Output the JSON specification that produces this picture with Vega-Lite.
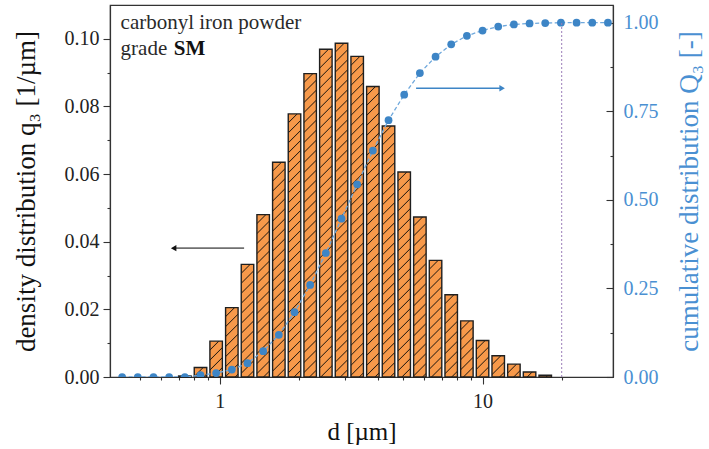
{
  "$schema": "https://vega.github.io/schema/vega-lite/v6.json",
  "width": 503,
  "height": 372,
  "autosize": {"type": "none"},
  "padding": {"left": 110, "top": 5, "right": 96, "bottom": 72},
  "background": "white",
  "params": [
    {
      "name": "hatch",
      "value": [
        {"offset": 0, "color": "#f7994a"},
        {"offset": 0.0223, "color": "#f7994a"}, {"offset": 0.0254, "color": "#2a1e12"}, {"offset": 0.0286, "color": "#f7994a"},
        {"offset": 0.0509, "color": "#f7994a"}, {"offset": 0.0540, "color": "#2a1e12"}, {"offset": 0.0571, "color": "#f7994a"},
        {"offset": 0.0794, "color": "#f7994a"}, {"offset": 0.0826, "color": "#2a1e12"}, {"offset": 0.0857, "color": "#f7994a"},
        {"offset": 0.1080, "color": "#f7994a"}, {"offset": 0.1111, "color": "#2a1e12"}, {"offset": 0.1143, "color": "#f7994a"},
        {"offset": 0.1366, "color": "#f7994a"}, {"offset": 0.1397, "color": "#2a1e12"}, {"offset": 0.1429, "color": "#f7994a"},
        {"offset": 0.1651, "color": "#f7994a"}, {"offset": 0.1683, "color": "#2a1e12"}, {"offset": 0.1714, "color": "#f7994a"},
        {"offset": 0.1937, "color": "#f7994a"}, {"offset": 0.1969, "color": "#2a1e12"}, {"offset": 0.2000, "color": "#f7994a"},
        {"offset": 0.2223, "color": "#f7994a"}, {"offset": 0.2254, "color": "#2a1e12"}, {"offset": 0.2286, "color": "#f7994a"},
        {"offset": 0.2509, "color": "#f7994a"}, {"offset": 0.2540, "color": "#2a1e12"}, {"offset": 0.2571, "color": "#f7994a"},
        {"offset": 0.2794, "color": "#f7994a"}, {"offset": 0.2826, "color": "#2a1e12"}, {"offset": 0.2857, "color": "#f7994a"},
        {"offset": 0.3080, "color": "#f7994a"}, {"offset": 0.3111, "color": "#2a1e12"}, {"offset": 0.3143, "color": "#f7994a"},
        {"offset": 0.3366, "color": "#f7994a"}, {"offset": 0.3397, "color": "#2a1e12"}, {"offset": 0.3429, "color": "#f7994a"},
        {"offset": 0.3651, "color": "#f7994a"}, {"offset": 0.3683, "color": "#2a1e12"}, {"offset": 0.3714, "color": "#f7994a"},
        {"offset": 0.3937, "color": "#f7994a"}, {"offset": 0.3969, "color": "#2a1e12"}, {"offset": 0.4000, "color": "#f7994a"},
        {"offset": 0.4223, "color": "#f7994a"}, {"offset": 0.4254, "color": "#2a1e12"}, {"offset": 0.4286, "color": "#f7994a"},
        {"offset": 0.4509, "color": "#f7994a"}, {"offset": 0.4540, "color": "#2a1e12"}, {"offset": 0.4571, "color": "#f7994a"},
        {"offset": 0.4794, "color": "#f7994a"}, {"offset": 0.4826, "color": "#2a1e12"}, {"offset": 0.4857, "color": "#f7994a"},
        {"offset": 0.5080, "color": "#f7994a"}, {"offset": 0.5111, "color": "#2a1e12"}, {"offset": 0.5143, "color": "#f7994a"},
        {"offset": 0.5366, "color": "#f7994a"}, {"offset": 0.5397, "color": "#2a1e12"}, {"offset": 0.5429, "color": "#f7994a"},
        {"offset": 0.5651, "color": "#f7994a"}, {"offset": 0.5683, "color": "#2a1e12"}, {"offset": 0.5714, "color": "#f7994a"},
        {"offset": 0.5937, "color": "#f7994a"}, {"offset": 0.5969, "color": "#2a1e12"}, {"offset": 0.6000, "color": "#f7994a"},
        {"offset": 0.6223, "color": "#f7994a"}, {"offset": 0.6254, "color": "#2a1e12"}, {"offset": 0.6286, "color": "#f7994a"},
        {"offset": 0.6509, "color": "#f7994a"}, {"offset": 0.6540, "color": "#2a1e12"}, {"offset": 0.6571, "color": "#f7994a"},
        {"offset": 0.6794, "color": "#f7994a"}, {"offset": 0.6826, "color": "#2a1e12"}, {"offset": 0.6857, "color": "#f7994a"},
        {"offset": 0.7080, "color": "#f7994a"}, {"offset": 0.7111, "color": "#2a1e12"}, {"offset": 0.7143, "color": "#f7994a"},
        {"offset": 0.7366, "color": "#f7994a"}, {"offset": 0.7397, "color": "#2a1e12"}, {"offset": 0.7429, "color": "#f7994a"},
        {"offset": 0.7651, "color": "#f7994a"}, {"offset": 0.7683, "color": "#2a1e12"}, {"offset": 0.7714, "color": "#f7994a"},
        {"offset": 0.7937, "color": "#f7994a"}, {"offset": 0.7969, "color": "#2a1e12"}, {"offset": 0.8000, "color": "#f7994a"},
        {"offset": 0.8223, "color": "#f7994a"}, {"offset": 0.8254, "color": "#2a1e12"}, {"offset": 0.8286, "color": "#f7994a"},
        {"offset": 0.8509, "color": "#f7994a"}, {"offset": 0.8540, "color": "#2a1e12"}, {"offset": 0.8571, "color": "#f7994a"},
        {"offset": 0.8794, "color": "#f7994a"}, {"offset": 0.8826, "color": "#2a1e12"}, {"offset": 0.8857, "color": "#f7994a"},
        {"offset": 0.9080, "color": "#f7994a"}, {"offset": 0.9111, "color": "#2a1e12"}, {"offset": 0.9143, "color": "#f7994a"},
        {"offset": 0.9366, "color": "#f7994a"}, {"offset": 0.9397, "color": "#2a1e12"}, {"offset": 0.9429, "color": "#f7994a"},
        {"offset": 0.9651, "color": "#f7994a"}, {"offset": 0.9683, "color": "#2a1e12"}, {"offset": 0.9714, "color": "#f7994a"},
        {"offset": 0.9937, "color": "#f7994a"}, {"offset": 0.9969, "color": "#2a1e12"}, {"offset": 1, "color": "#f7994a"}
      ]
    }
  ],
  "config": {
    "font": "Liberation Serif",
    "view": {"stroke": "#333333", "strokeWidth": 1.2},
    "axis": {
      "grid": false,
      "domainColor": "#333333",
      "domainWidth": 1.2,
      "tickColor": "#333333",
      "tickWidth": 1.1,
      "labelFont": "Liberation Serif",
      "labelFontSize": 20,
      "labelColor": "#222222",
      "labelOverlap": false,
      "labelFlush": false,
      "titleFont": "Liberation Serif",
      "titleFontWeight": "normal",
      "titleColor": "#111111"
    }
  },
  "datasets": {
    "q3": [
      {"d": 0.7374, "q3": 0.0003},
      {"d": 0.8458, "q3": 0.0028},
      {"d": 0.9701, "q3": 0.0106},
      {"d": 1.1128, "q3": 0.0205},
      {"d": 1.2764, "q3": 0.0333},
      {"d": 1.4642, "q3": 0.0480},
      {"d": 1.6795, "q3": 0.0635},
      {"d": 1.9265, "q3": 0.0778},
      {"d": 2.2099, "q3": 0.0897},
      {"d": 2.5351, "q3": 0.0969},
      {"d": 2.9079, "q3": 0.0987},
      {"d": 3.3357, "q3": 0.0948},
      {"d": 3.8263, "q3": 0.0859},
      {"d": 4.3892, "q3": 0.0742},
      {"d": 5.0350, "q3": 0.0606},
      {"d": 5.7756, "q3": 0.0473},
      {"d": 6.6252, "q3": 0.0345},
      {"d": 7.5996, "q3": 0.0243},
      {"d": 8.7176, "q3": 0.0166},
      {"d": 10.0, "q3": 0.0108},
      {"d": 11.471, "q3": 0.0063},
      {"d": 13.158, "q3": 0.0038},
      {"d": 15.094, "q3": 0.0015},
      {"d": 17.314, "q3": 0.0005}
    ],
    "Q3": [
      {"d": 0.4258, "Q3": 0.0},
      {"d": 0.4883, "Q3": 0.0},
      {"d": 0.5603, "Q3": 0.0},
      {"d": 0.6427, "Q3": 0.0},
      {"d": 0.7374, "Q3": 0.0},
      {"d": 0.8458, "Q3": 0.005},
      {"d": 0.9701, "Q3": 0.011},
      {"d": 1.1128, "Q3": 0.021},
      {"d": 1.2764, "Q3": 0.039},
      {"d": 1.4642, "Q3": 0.073},
      {"d": 1.6795, "Q3": 0.119},
      {"d": 1.9265, "Q3": 0.183},
      {"d": 2.2099, "Q3": 0.260},
      {"d": 2.5351, "Q3": 0.350},
      {"d": 2.9079, "Q3": 0.447},
      {"d": 3.3357, "Q3": 0.544},
      {"d": 3.8263, "Q3": 0.639},
      {"d": 4.3892, "Q3": 0.725},
      {"d": 5.0350, "Q3": 0.797},
      {"d": 5.7756, "Q3": 0.858},
      {"d": 6.6252, "Q3": 0.904},
      {"d": 7.5996, "Q3": 0.939},
      {"d": 8.7176, "Q3": 0.963},
      {"d": 10.0, "Q3": 0.978},
      {"d": 11.471, "Q3": 0.989},
      {"d": 13.158, "Q3": 0.995},
      {"d": 15.094, "Q3": 0.998},
      {"d": 17.314, "Q3": 0.999},
      {"d": 19.861, "Q3": 1.0},
      {"d": 22.782, "Q3": 1.0},
      {"d": 26.134, "Q3": 1.0},
      {"d": 29.978, "Q3": 1.0}
    ],
    "notes": [
      {"d": 0.42, "q3": 0.1030, "label": "carbonyl iron powder"},
      {"d": 0.42, "q3": 0.0953, "label": "grade"}
    ],
    "notesBold": [
      {"d": 0.669, "q3": 0.0953, "label": "SM"}
    ],
    "arrowLeft": [
      {"d": 0.6685, "d2": 1.239, "q3": 0.0381}
    ],
    "arrowRight": [
      {"d": 5.587, "d2": 11.87, "Q3": 0.815}
    ],
    "cutoff": [
      {"d": 20, "Q3": 0, "Q3b": 1}
    ]
  },
  "encoding": {
    "x": {
      "field": "d",
      "type": "quantitative",
      "scale": {"type": "log", "domain": [0.4, 30], "nice": false},
      "axis": {
        "values": [0.5, 0.6, 0.7, 0.8, 0.9, 1, 2, 3, 4, 5, 6, 7, 8, 9, 10, 20],
        "format": "~g",
        "labelExpr": "datum.value == 1 || datum.value == 10 ? datum.label : ''",
        "tickSize": {"condition": {"test": "datum.value == 1 || datum.value == 10", "value": 7}, "value": 3},
        "labelPadding": 7,
        "title": "d [µm]",
        "titleFontSize": 25,
        "titlePadding": 8
      }
    }
  },
  "layer": [
    {
      "data": {"name": "q3"},
      "mark": {
        "type": "bar",
        "orient": "vertical",
        "size": 12.5,
        "fill": {"expr": "{gradient: 'linear', x1: 0, y1: 0, x2: 350 * 12.5 / (156.25 + pow(datum.q3 * 3381.8, 2)), y2: 350 * datum.q3 * 3381.8 / (156.25 + pow(datum.q3 * 3381.8, 2)), stops: hatch}"},
        "stroke": "#1f1f1f",
        "strokeWidth": 1.4
      },
      "encoding": {
        "y": {
          "field": "q3",
          "type": "quantitative",
          "scale": {"domain": [0, 0.11], "nice": false},
          "axis": {
            "values": [0, 0.01, 0.02, 0.03, 0.04, 0.05, 0.06, 0.07, 0.08, 0.09, 0.1],
            "format": ".2f",
            "labelExpr": "round(datum.value * 100) % 2 == 0 ? datum.label : ''",
            "tickSize": {"condition": {"test": "round(datum.value * 100) % 2 == 0", "value": 7}, "value": 3},
            "labelPadding": 4,
            "title": "density distribution q₃ [1/µm]",
            "titleFontSize": 27,
            "titlePadding": 24
          }
        }
      }
    },
    {
      "data": {"name": "Q3"},
      "mark": {"type": "line", "color": "#6fa8dc", "strokeWidth": 1.3, "strokeDash": [4, 2.5], "clip": true},
      "encoding": {
        "y": {
          "field": "Q3",
          "type": "quantitative",
          "scale": {"domain": [0, 1.05], "nice": false},
          "axis": {
            "orient": "right",
            "values": [0, 0.125, 0.25, 0.375, 0.5, 0.625, 0.75, 0.875, 1],
            "format": ".2f",
            "labelExpr": "round(datum.value * 1000) % 250 == 0 ? datum.label : ''",
            "tickSize": {"condition": {"test": "round(datum.value * 1000) % 250 == 0", "value": -7}, "value": -3},
            "labelPadding": 17,
            "labelColor": "#4a90d2",
            "title": "cumulative distribution Q₃ [-]",
            "titleColor": "#4a90d2",
            "titleFontSize": 27,
            "titleAngle": 270,
            "titleBaseline": "top",
            "titlePadding": 18
          }
        }
      }
    },
    {
      "data": {"name": "arrowLeft"},
      "mark": {"type": "rule", "color": "#707070", "strokeWidth": 1.6},
      "encoding": {
        "x2": {"field": "d2"},
        "y": {"field": "q3", "type": "quantitative", "scale": {"domain": [0, 0.11], "nice": false}, "axis": null}
      }
    },
    {
      "data": {"name": "arrowLeft"},
      "mark": {"type": "point", "shape": "triangle-left", "filled": true, "color": "#111111", "size": 40, "opacity": 1},
      "encoding": {
        "y": {"field": "q3", "type": "quantitative", "scale": {"domain": [0, 0.11], "nice": false}, "axis": null}
      }
    },
    {
      "data": {"name": "notes"},
      "mark": {"type": "text", "align": "left", "baseline": "alphabetic", "fontSize": 21, "color": "#2a2a2a"},
      "encoding": {
        "y": {"field": "q3", "type": "quantitative", "scale": {"domain": [0, 0.11], "nice": false}, "axis": null},
        "text": {"field": "label"}
      }
    },
    {
      "data": {"name": "notesBold"},
      "mark": {"type": "text", "align": "left", "baseline": "alphabetic", "fontSize": 21, "fontWeight": "bold", "color": "#111111"},
      "encoding": {
        "y": {"field": "q3", "type": "quantitative", "scale": {"domain": [0, 0.11], "nice": false}, "axis": null},
        "text": {"field": "label"}
      }
    },
    {
      "data": {"name": "Q3"},
      "mark": {"type": "point", "filled": true, "color": "#3d85c6", "size": 60, "opacity": 1, "clip": true},
      "encoding": {
        "y": {"field": "Q3", "type": "quantitative", "scale": {"domain": [0, 1.05], "nice": false}, "axis": null}
      }
    },
    {
      "data": {"name": "arrowRight"},
      "mark": {"type": "rule", "color": "#3d85c6", "strokeWidth": 1.5},
      "encoding": {
        "x2": {"field": "d2"},
        "y": {"field": "Q3", "type": "quantitative", "scale": {"domain": [0, 1.05], "nice": false}, "axis": null}
      }
    },
    {
      "data": {"name": "arrowRight"},
      "mark": {"type": "point", "shape": "triangle-right", "filled": true, "color": "#3d85c6", "size": 40, "opacity": 1},
      "encoding": {
        "x": {"field": "d2", "type": "quantitative"},
        "y": {"field": "Q3", "type": "quantitative", "scale": {"domain": [0, 1.05], "nice": false}, "axis": null}
      }
    },
    {
      "data": {"name": "cutoff"},
      "mark": {"type": "rule", "color": "#9b7db8", "strokeWidth": 1, "strokeDash": [2, 2]},
      "encoding": {
        "y": {"field": "Q3", "type": "quantitative", "scale": {"domain": [0, 1.05], "nice": false}, "axis": null},
        "y2": {"field": "Q3b"}
      }
    }
  ],
  "resolve": {"scale": {"y": "independent"}}
}
